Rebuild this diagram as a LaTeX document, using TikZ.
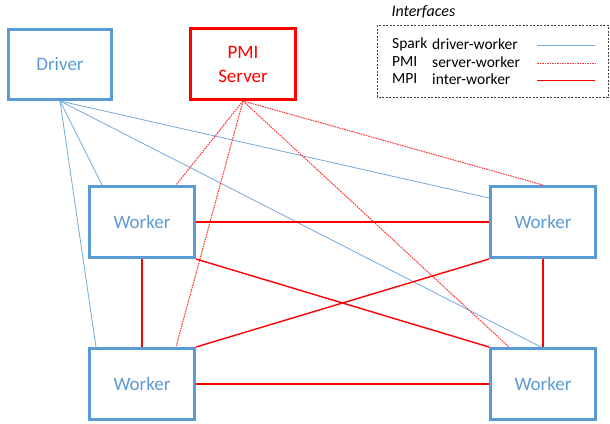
\documentclass[tikz,border=0pt]{standalone}
\usepackage{fontspec}
\setmainfont{Carlito}
\usepackage{tikz}
\usetikzlibrary{positioning,calc}
\definecolor{offblue}{HTML}{5B9BD5}
\definecolor{pmired}{HTML}{FF0000}
\colorlet{sparkc}{offblue!85}
\colorlet{mpic}{pmired}

\begin{document}
\begin{tikzpicture}[x=1pt,y=-1pt,
  bx/.style={rectangle,draw=offblue,line width=3pt,minimum width=105pt,minimum height=71pt,inner sep=0pt,text=offblue,font=\fontsize{19}{24}\selectfont,align=center},
  spk/.style={draw=sparkc,line width=0.8pt},
  pmil/.style={draw=pmired!80,line width=1pt,dash pattern=on 1.6pt off 0.9pt},
  mpil/.style={draw=mpic,line width=1.4pt},
  lg/.style={anchor=west,font=\fontsize{15.5}{18}\selectfont,inner sep=0pt}]
\useasboundingbox (0,0) rectangle (610,423);
\node[bx,minimum width=103pt,minimum height=70pt] (drv) at (60,64.5) {Driver};
\node[bx,draw=pmired,text=pmired] (pmi) at (243,64) {PMI\\Server};
\node[bx] (w1) at (142,222) {Worker};
\node[bx] (w2) at (543,222) {Worker};
\node[bx] (w3) at (142,384) {Worker};
\node[bx] (w4) at (543,384) {Worker};

% driver-worker
\draw[spk] (drv.south) -- ([xshift=14pt]w1.north west);
\draw[spk] (drv.south) -- ([xshift=8pt]w3.north west);
\draw[spk] (drv.south) -- ([yshift=-13pt]w2.north west);
\draw[spk] (drv.south) -- ([xshift=-2pt]w4.north);
% server-worker
\draw[pmil] (pmi.south) -- ([xshift=-20pt]w1.north east);
\draw[pmil] (pmi.south) -- ([xshift=-20pt]w3.north east);
\draw[pmil] (pmi.south) -- (w2.north);
\draw[pmil] (pmi.south) -- ([xshift=20pt]w4.north west);
% inter-worker
\draw[mpil] (w1.east) -- (w2.west);
\draw[mpil] (w1.south) -- (w3.north);
\draw[mpil] (w1.south east) -- (w4.north west);
\draw[mpil] (w2.south west) -- (w3.north east);
\draw[mpil] (w2.south) -- (w4.north);
\draw[mpil] (w3.east) -- (w4.west);

% legend
\node[anchor=west,font=\fontsize{16}{18}\selectfont\itshape] (ifc) at (388,12) {Interfaces};
\draw[black!75,line width=0.6pt,dash pattern=on 2pt off 1.5pt] (377,25) rectangle (608,97);
\foreach \y/\a/\b/\s in {44/Spark/driver-worker/spk,62/PMI/server-worker/pmil,79/MPI/inter-worker/mpil}{
  \node[lg] at (392,\y) {\a};
  \node[lg] at (432,\y) {\b};
  \draw[\s] (537,\y+1.5) -- (595,\y+1.5);}
\end{tikzpicture}
\end{document}
